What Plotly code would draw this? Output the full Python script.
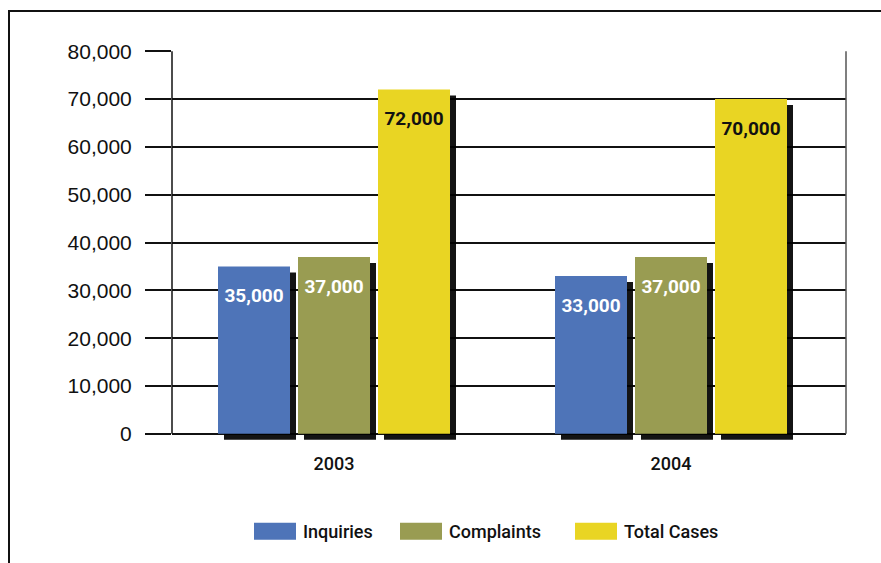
import plotly.graph_objects as go

# Chart data
years = ["2003", "2004"]
series_names = ["Inquiries", "Complaints", "Total Cases"]
inquiries = [35000, 33000]
complaints = [37000, 37000]
total_cases = [72000, 70000]
y_ticks = [0, 10000, 20000, 30000, 40000, 50000, 60000, 70000, 80000]

series_values = [inquiries, complaints, total_cases]
colors = ["#4E74B8", "#999C52", "#E9D523"]
label_colors = ["white", "white", "#111111"]

W, H = 881, 563
left, right, top = 172, 35, 51
y_max = 80000
y_min = -1500
zero_px = 434
px_per_unit_y = (zero_px - top) / y_max
bottom_px = zero_px + (-y_min) * px_per_unit_y
bottom = H - bottom_px
plot_w = W - left - right
plot_h = bottom_px - top

x_unit_px = plot_w / 2.0
x_lo = -(334 - left) / x_unit_px
x_hi = x_lo + 2.0

bw = 72 / x_unit_px
gap = 8 / x_unit_px
shadow_dx = 6 / x_unit_px
shadow_dy = 6 / px_per_unit_y

COND = "Roboto, Liberation Sans, sans-serif"

fig = go.Figure()
xs = list(range(len(years)))

offsets = [-1.5 * bw - gap + i * (bw + gap) for i in range(3)]

# drop shadows behind each bar
for i, vals in enumerate(series_values):
    fig.add_trace(go.Bar(
        x=xs, y=vals, base=[-shadow_dy] * len(vals),
        offset=offsets[i] + shadow_dx, width=bw,
        marker=dict(color="#000000", line=dict(width=0)),
        opacity=0.92, showlegend=False, hoverinfo="skip",
    ))

# bars
for i, vals in enumerate(series_values):
    fig.add_trace(go.Bar(
        x=xs, y=vals, offset=offsets[i], width=bw, name=series_names[i],
        marker=dict(color=colors[i], line=dict(width=0)),
        showlegend=False,
    ))

# value labels near the top of each bar
label_drop = 31 / px_per_unit_y
for i, vals in enumerate(series_values):
    fig.add_trace(go.Scatter(
        x=[k + offsets[i] + bw / 2 for k in xs],
        y=[v - label_drop for v in vals],
        mode="text",
        text=[f"{v:,}" for v in vals],
        textfont=dict(family=COND, size=19, color=label_colors[i], weight="bold"),
        showlegend=False, hoverinfo="skip",
    ))


def px_x(p):
    return (p - left) / plot_w


def px_y(p):
    return (bottom_px - p) / plot_h


shapes = []
# left axis and right frame lines
shapes.append(dict(type="line", xref="paper", yref="y", x0=0, x1=0, y0=0, y1=y_max,
                   line=dict(color="#111111", width=1.5)))
shapes.append(dict(type="line", xref="paper", yref="y", x0=1, x1=1, y0=0, y1=y_max,
                   line=dict(color="#555555", width=1.5)))
# outer border
shapes.append(dict(type="rect", xref="paper", yref="paper",
                   x0=px_x(9), x1=px_x(W + 20), y0=px_y(H + 20), y1=px_y(11),
                   line=dict(color="#111111", width=2), fillcolor="rgba(0,0,0,0)"))

# legend
annotations = []
legend_x = [254, 400, 575]
for i, name in enumerate(series_names):
    x0 = legend_x[i]
    shapes.append(dict(type="rect", xref="paper", yref="paper",
                       x0=px_x(x0), x1=px_x(x0 + 42), y0=px_y(540), y1=px_y(523),
                       line=dict(width=0), fillcolor=colors[i]))
    annotations.append(dict(xref="paper", yref="paper", x=px_x(x0 + 47), y=px_y(532),
                            xanchor="left", yanchor="middle", showarrow=False, text=name,
                            font=dict(family=COND, size=18, color="#111111", weight=500)))

fig.update_layout(
    width=W, height=H,
    margin=dict(l=left, r=right, t=top, b=bottom),
    paper_bgcolor="white", plot_bgcolor="white",
    barmode="overlay",
    shapes=shapes, annotations=annotations,
    showlegend=False,
    xaxis=dict(range=[x_lo, x_hi], tickvals=xs, ticktext=years, showgrid=False,
               zeroline=False, showline=False, ticks="", ticklabelstandoff=10,
               tickfont=dict(family=COND, size=18, color="#111111", weight=500)),
    yaxis=dict(range=[y_min, y_max + 60], tickvals=y_ticks, tickformat=",",
               showgrid=True, gridcolor="#111111", gridwidth=1.5,
               zeroline=False, showline=False,
               ticks="outside", ticklen=26, tickcolor="#111111", tickwidth=1.5,
               ticklabelstandoff=9,
               tickfont=dict(family="Liberation Sans, Arial, sans-serif", size=21, color="#111111")),
)

fig.write_html("out.html")
